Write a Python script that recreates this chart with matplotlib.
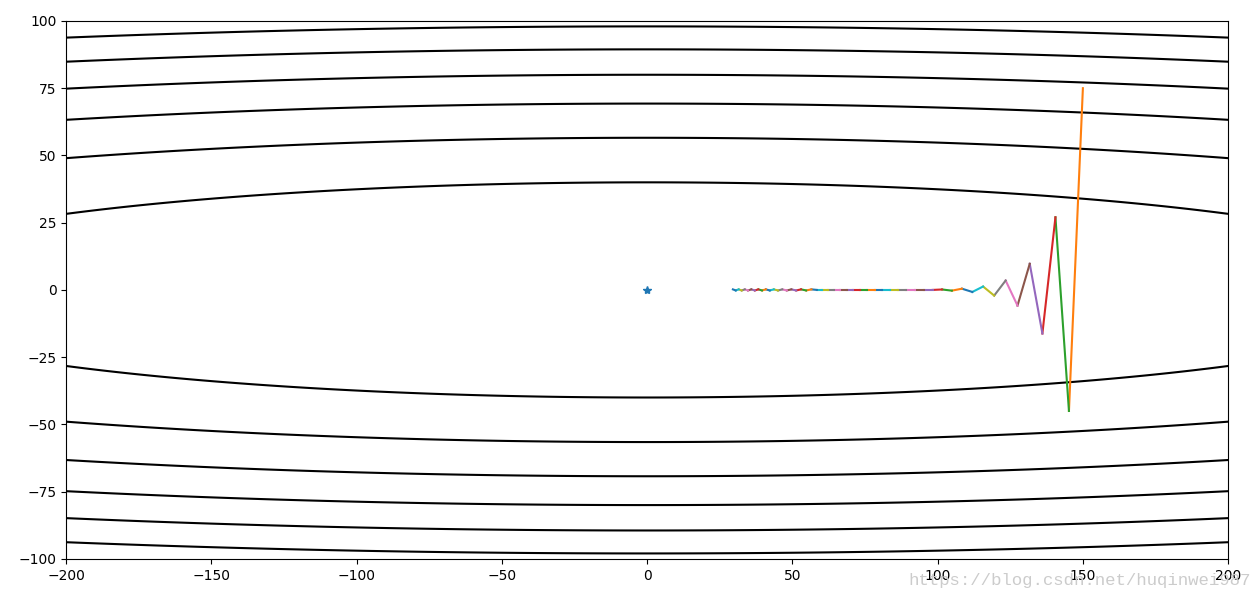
import numpy as np
import matplotlib
matplotlib.use("Agg")
import matplotlib.pyplot as plt

# contour levels of f(x, y) = x^2 / 50 + y^2
levels = [1600, 3200, 4800, 6400, 8000, 9600]

# descent path, starting at (150, 75)
path_x = [150.0, 145.2, 140.55, 136.06, 131.70, 127.49, 123.41, 119.46, 115.64,
          111.94, 108.36, 104.89, 101.53, 98.28, 95.14, 92.09, 89.15, 86.29,
          83.53, 80.86, 78.27, 75.77, 73.34, 70.99, 68.72, 66.52, 64.40, 62.34,
          60.34, 58.41, 56.54, 54.73, 52.98, 51.29, 49.65, 48.06, 46.52, 45.03,
          43.59, 42.20, 40.85, 39.54, 38.27, 37.05, 35.86, 34.72, 33.60, 32.53,
          31.49, 30.48, 29.51]
path_y = [75.0, -45.0, 27.0, -16.2, 9.72, -5.83, 3.50, -2.10, 1.26, -0.756,
          0.454, -0.272, 0.163, 0.0, 0.0, 0.0, 0.0, 0.0, 0.0,
          0.0, 0.0, 0.0, 0.0, 0.0, 0.0, 0.0, 0.0, 0.0, 0.0, 0.0,
          0.2, -0.2, 0.2, -0.2, 0.2, -0.2, 0.2, -0.2, 0.2, -0.2, 0.2,
          -0.2, 0.2, -0.2, 0.2, -0.2, 0.2, -0.2, 0.2, -0.2, 0.2]

fig = plt.figure(figsize=(12.5, 5.99), dpi=100)
fig.subplots_adjust(left=0.053, right=0.9825, bottom=0.067, top=0.965)

x = np.linspace(-200, 200, 1000)
y = np.linspace(-100, 100, 1000)
X, Y = np.meshgrid(x, y)
Z = X ** 2 / 50 + Y ** 2

plt.contour(X, Y, Z, levels=levels, colors="black", linewidths=1.5)
plt.plot(0, 0, "*")

# one line per step, so each step takes the next colour
for i in range(len(path_x) - 1):
    plt.plot(path_x[i:i + 2], path_y[i:i + 2])

plt.xlim(-200, 200)
plt.ylim(-100, 100)

fig.text(0.7265, 0.023, "https://blog.csdn.net/huqinwei987",
         family="Liberation Mono", fontsize=12.5, color="#cccccc")

plt.savefig("out.png")
